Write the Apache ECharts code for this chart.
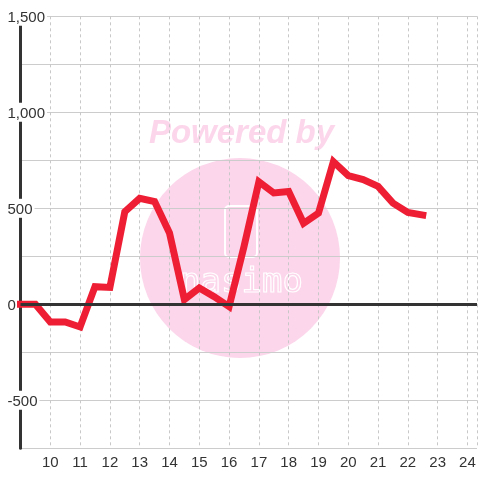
<!DOCTYPE html>
<html>
<head>
<meta charset="utf-8">
<script src="https://cdn.jsdelivr.net/npm/echarts@6/dist/echarts.min.js"></script>
<style>
  html, body { margin: 0; padding: 0; background: #fff; }
  #chart { width: 480px; height: 480px; }
</style>
</head>
<body>
<div id="chart"></div>
<script>
// half-hour readings, hour of day on x
const hours = [9, 9.5, 10, 10.5, 11, 11.5, 12, 12.5, 13, 13.5, 14, 14.5, 15, 15.5,
  16, 16.5, 17, 17.5, 18, 18.5, 19, 19.5, 20, 20.5, 21, 21.5, 22, 22.5];
const values = [0, 0, -92, -92, -118, 92, 88, 482, 552, 535, 372, 25, 85, 40,
  -12, 300, 638, 580, 588, 422, 475, 743, 670, 650, 614, 527, 478, 465];
const yLabelValues = [-500, 0, 500, 1000, 1500];

const chart = echarts.init(document.getElementById('chart'));

chart.setOption({
  backgroundColor: '#fff',
  animation: false,
  textStyle: { fontFamily: 'Liberation Sans' },
  grid: { left: 20.5, right: 0, top: 16.3, bottom: 31.7 },
  graphic: [
    {
      type: 'circle', z: -10, silent: true,
      shape: { cx: 240, cy: 258, r: 100 },
      style: { fill: '#fcd6eb' }
    },
    {
      type: 'text', z: -10, silent: true, x: 241.5, y: 134,
      style: {
        text: 'Powered by', fill: '#fcd6eb', align: 'center', verticalAlign: 'middle',
        font: 'italic bold 33px "Liberation Sans"'
      }
    },
    {
      type: 'rect', z: -9, silent: true,
      shape: { x: 225, y: 206, width: 32, height: 51, r: 4 },
      style: { fill: 'none', stroke: '#fff', lineWidth: 2 }
    },
    {
      type: 'text', z: -9, silent: true, x: 241.5, y: 266,
      style: {
        text: 'nasimo', fill: 'none', stroke: '#fff', lineWidth: 1.2,
        align: 'center', verticalAlign: 'top',
        font: '34px "DejaVu Sans Mono"'
      }
    }
  ],
  xAxis: {
    type: 'value',
    min: 9,
    max: 24.32,
    interval: 1,
    axisLine: { show: true, lineStyle: { color: '#ccc', width: 1 } },
    axisTick: { show: false },
    axisLabel: {
      color: '#333', fontSize: 15, margin: 7,
      formatter: v => (Number.isInteger(v) && v > 9 ? String(v) : '')
    },
    splitLine: { show: true, lineStyle: { color: '#c8c8c8', type: [3, 3] } }
  },
  yAxis: {
    type: 'value',
    min: -750,
    max: 1500,
    interval: 250,
    axisLine: { show: true, onZero: false, lineStyle: { color: '#333', width: 3 } },
    axisTick: { show: false },
    axisLabel: {
      align: 'left', margin: 14, color: '#333', fontSize: 15,
      formatter: v => (yLabelValues.includes(v) ? '{b|' + v.toLocaleString('en-US') + '}' : ''),
      rich: { b: { backgroundColor: '#fff', padding: [4, 2, 0, 1], fontSize: 15, color: '#333' } }
    },
    splitLine: { show: true, lineStyle: { color: '#ccc', width: 1 } }
  },
  series: [
    {
      type: 'line', z: 1, data: [], silent: true,
      markLine: {
        silent: true, symbol: 'none', label: { show: false },
        lineStyle: { color: '#333', width: 3, type: 'solid' },
        data: [{ yAxis: 0 }]
      }
    },
    {
      type: 'line', z: 3,
      data: hours.map((h, i) => [h, values[i]]),
      showSymbol: false,
      clip: false,
      lineStyle: { color: '#ee1f35', width: 7, cap: 'square', join: 'miter' }
    }
  ]
});
</script>
</body>
</html>
